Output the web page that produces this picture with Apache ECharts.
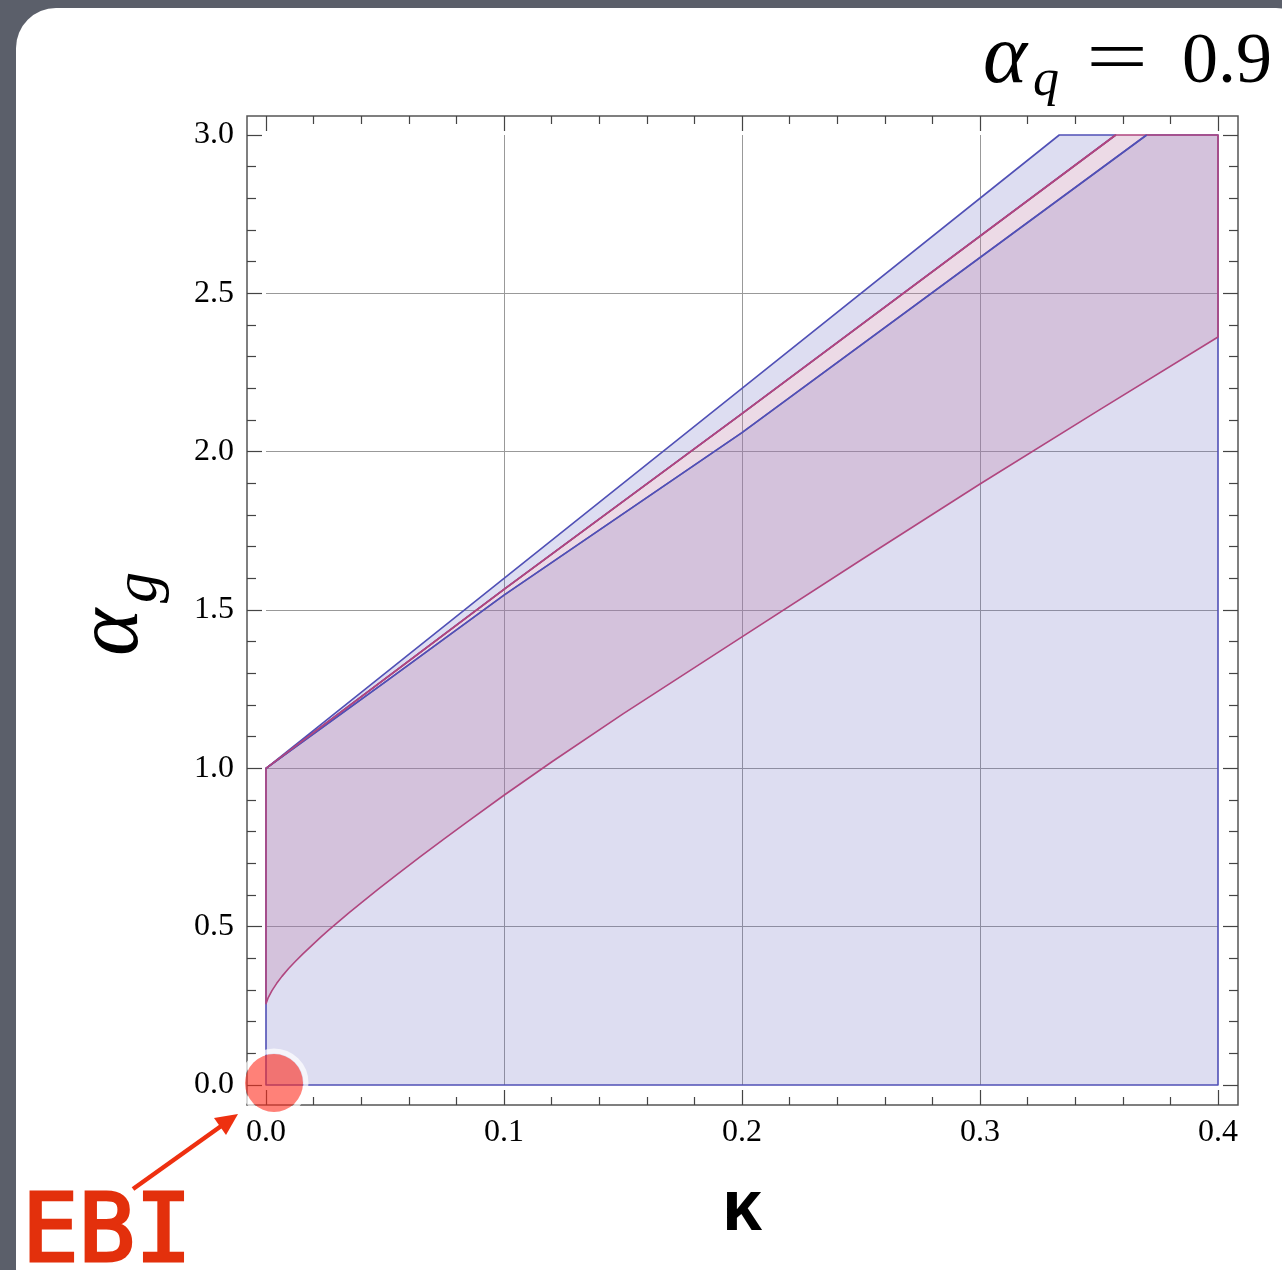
<!DOCTYPE html>
<html>
<head>
<meta charset="utf-8">
<script src="https://cdn.jsdelivr.net/npm/echarts@6/dist/echarts.min.js"></script>
<style>
html,body{margin:0;padding:0;background:#5b5f6a;}
#chart{width:1282px;height:1270px;}
</style>
</head>
<body>
<div id="chart"></div>
<script>
// ---- data (kappa, alpha_g) ----
const xTicks = [0.0, 0.1, 0.2, 0.3, 0.4];
const yTicks = [0.0, 0.5, 1.0, 1.5, 2.0, 2.5, 3.0];
const kappaMax = 0.4;
const alphaMax = 3.0;
// lower boundary of the magenta region
const magentaLower = [
  [0, 0.257], [0.001, 0.277], [0.0025, 0.298], [0.0045, 0.321], [0.0067, 0.343],
  [0.0095, 0.368], [0.0123, 0.390], [0.0155, 0.414], [0.0193, 0.441], [0.023, 0.467],
  [0.0263, 0.489], [0.030, 0.513], [0.0347, 0.543], [0.040, 0.575], [0.0473, 0.619],
  [0.055, 0.664], [0.065, 0.722], [0.075, 0.778], [0.084, 0.828], [0.1, 0.915],
  [0.12, 1.020], [0.15, 1.172], [0.2, 1.415], [0.25, 1.658], [0.3, 1.898],
  [0.35, 2.131], [0.4, 2.362]
];
// upper boundary of the magenta region
const magentaUpper = [[0, 1.0], [0.1, 1.565], [0.2, 2.12], [0.357, 3.0]];
// outer upper boundary of the blue region
const blueUpper = [[0, 1.0], [0.1, 1.6], [0.2, 2.2], [0.3333, 3.0]];
// inner blue boundary
const blueInner = [[0, 1.0], [0.05, 1.272], [0.1, 1.547], [0.2, 2.06], [0.37, 3.0]];

const BLUE = '#5050b6';
const MAG = '#b0467f';
const BLUE_FILL = 'rgba(100,100,190,0.22)';
const MAG_FILL = 'rgba(189,126,168,0.29)';

const rev = a => a.slice().reverse();
const blueMain = [[0, 0], [kappaMax, 0], [kappaMax, alphaMax]].concat(rev(blueInner));
const blueStrip = blueUpper.concat(rev(magentaUpper));
const magentaRegion = [[0, magentaLower[0][1]]].concat(magentaUpper, [[kappaMax, alphaMax]], rev(magentaLower));

function polySeries(name, pts, fill, stroke, z) {
  return {
    type: 'custom', name: name, xAxisIndex: 0, yAxisIndex: 0, z: z, silent: true,
    clip: false,
    data: [pts[0]],
    renderItem: function (params, api) {
      return {
        type: 'polygon',
        shape: { points: pts.map(p => api.coord(p)) },
        style: { fill: fill, stroke: stroke, lineWidth: 1.6, lineJoin: 'round' }
      };
    }
  };
}

const serif = 'Liberation Serif';
const tickStyle = { color: '#444', width: 1.2 };
function xAx(pos, showLabel, split) {
  return {
    type: 'value', gridIndex: 0, position: pos, offset: pos === 'bottom' ? 20 : 19,
    min: 0, max: kappaMax, interval: 0.1,
    axisLine: { show: false, onZero: false },
    axisTick: { show: true, inside: true, length: 15, lineStyle: tickStyle },
    minorTick: { show: true, splitNumber: 5, length: 8, lineStyle: tickStyle },
    axisLabel: { show: showLabel, margin: 12, color: '#000', fontFamily: serif, fontSize: 32,
      formatter: v => v.toFixed(1) },
    splitLine: { show: split, showMinLine: false, showMaxLine: false, lineStyle: { color: '#999999', width: 1 } }
  };
}
function yAx(pos, showLabel, split) {
  return {
    type: 'value', gridIndex: 0, position: pos, offset: pos === 'left' ? 19 : 20,
    min: 0, max: alphaMax, interval: 0.5,
    axisLine: { show: false, onZero: false },
    axisTick: { show: true, inside: true, length: 15, lineStyle: tickStyle },
    minorTick: { show: true, splitNumber: 5, length: 9, lineStyle: tickStyle },
    axisLabel: { show: showLabel, margin: 13, color: '#000', fontFamily: serif, fontSize: 32,
      formatter: v => v.toFixed(1) },
    splitLine: { show: split, showMinLine: false, showMaxLine: false, lineStyle: { color: '#999999', width: 1 } }
  };
}

const chart = echarts.init(document.getElementById('chart'), null, { renderer: 'canvas' });
const option = {
  backgroundColor: '#5b5f6a',
  animation: false,
  grid: [
    { left: 266, top: 135, width: 952, height: 950, show: false },
    { left: 247, top: 116, width: 991, height: 989, show: true, borderColor: '#555555', borderWidth: 1.5, backgroundColor: 'rgba(0,0,0,0)' }
  ],
  xAxis: [
    xAx('bottom', true, true),
    xAx('top', false, false),
    { type: 'value', gridIndex: 1, show: false, min: 0, max: 1 }
  ],
  yAxis: [
    yAx('left', true, true),
    yAx('right', false, false),
    { type: 'value', gridIndex: 1, show: false, min: 0, max: 1 }
  ],
  series: [
    polySeries('blueMain', blueMain, BLUE_FILL, BLUE, 2),
    polySeries('blueStrip', blueStrip, BLUE_FILL, BLUE, 2),
    polySeries('magenta', magentaRegion, MAG_FILL, MAG, 3),
    { type: 'line', xAxisIndex: 0, yAxisIndex: 0, data: blueInner, symbol: 'none', silent: true, z: 4,
      lineStyle: { color: BLUE, width: 1.6 } },
    { type: 'line', xAxisIndex: 0, yAxisIndex: 0, data: magentaUpper, symbol: 'none', silent: true, z: 4,
      lineStyle: { color: MAG, width: 1.6 } }
  ],
  graphic: [
    { type: 'rect', z: -100, shape: { x: 16, y: 8, width: 1300, height: 1300, r: 40 }, style: { fill: '#ffffff' } },
    // title alpha_q = 0.9
    { type: 'text', z: 100, x: 983, y: 60, style: { text: 'α', font: 'italic 84px "Liberation Serif"', fill: '#000', align: 'left', verticalAlign: 'middle' } },
    { type: 'text', z: 100, x: 1033, y: 81, style: { text: 'q', font: 'italic 52px "Liberation Serif"', fill: '#000', align: 'left', verticalAlign: 'middle' } },
    { type: 'text', z: 100, x: 1117, y: 62, scaleX: 1.45, style: { text: '=', font: '76px "Liberation Serif"', fill: '#000', align: 'center', verticalAlign: 'middle' } },
    { type: 'text', z: 100, x: 1272, y: 63, style: { text: '0.9', font: '72px "Liberation Serif"', fill: '#000', align: 'right', verticalAlign: 'middle' } },
    // y axis name alpha_g (rotated)
    { type: 'text', z: 100, x: 113, y: 656, rotation: Math.PI / 2, style: { text: 'α', font: 'italic 90px "Liberation Serif"', fill: '#000', align: 'left', verticalAlign: 'middle' } },
    { type: 'text', z: 100, x: 140, y: 603, rotation: Math.PI / 2, style: { text: 'g', font: 'italic 62px "Liberation Serif"', fill: '#000', align: 'left', verticalAlign: 'middle' } },
    // x axis name kappa
    { type: 'text', z: 100, x: 742, y: 1210, style: { text: 'κ', font: 'bold 72px "Liberation Sans"', fill: '#000', align: 'center', verticalAlign: 'middle' } },
    // EBI annotation
    { type: 'circle', z: 100, shape: { cx: 274, cy: 1083, r: 32 }, style: { fill: 'none', stroke: 'rgba(255,255,255,0.7)', lineWidth: 5 } },
    { type: 'circle', z: 101, shape: { cx: 274, cy: 1083, r: 29 }, style: { fill: 'rgba(255,45,30,0.6)' } },
    { type: 'line', z: 100, shape: { x1: 133, y1: 1189, x2: 224, y2: 1124 }, style: { stroke: '#ee3010', lineWidth: 4.5 } },
    { type: 'polygon', z: 100, shape: { points: [[238, 1114], [226, 1135], [214, 1118]] }, style: { fill: '#ee3010' } },
    { type: 'text', z: 100, x: 22, y: 1237, style: { text: 'EBI', font: '94px "DejaVu Sans Mono"', fill: '#e3300c', stroke: '#e3300c', lineWidth: 3, align: 'left', verticalAlign: 'middle' } }
  ]
};
chart.setOption(option);
</script>
</body>
</html>
